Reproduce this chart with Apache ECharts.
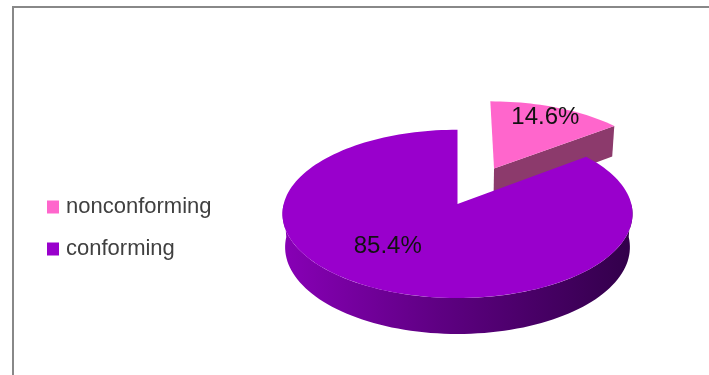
<!DOCTYPE html>
<html>
<head>
<meta charset="utf-8">
<script src="https://cdn.jsdelivr.net/npm/echarts@6/dist/echarts.min.js"></script>
<style>
  html, body { margin: 0; padding: 0; background: #fff; }
  #chart { width: 709px; height: 375px; }
</style>
</head>
<body>
<div id="chart"></div>
<script>
// 数据
const categories = ['nonconforming', 'conforming']
const values = [14.6, 85.4]
const topColors = ['#ff66cc', '#9900cc']
const sideColors = ['#8c3a6c', '#5e0082']
const explodeBy = [0.5, 0]

// 3D 投影参数 (Excel 3-D pie look)
const CX = 457.5, CY = 237, K = 1267, D = 7.4, H = 0.22
const TILT = 30 * Math.PI / 180
const sT = Math.sin(TILT), cT = Math.cos(TILT)
const cam = [0, -D * cT, D * sT]

function project(x, y, z) {
  const depth = D + y * cT - z * sT
  const v = y * sT + z * cT
  return [CX + K * x / depth, CY - K * v / depth]
}

const rad = d => d * Math.PI / 180
const total = values.reduce((a, b) => a + b, 0)

function arcPts(ox, oy, a1, a2, z) {
  const pts = []
  const n = Math.max(2, Math.ceil((a2 - a1) / 2))
  for (let k = 0; k <= n; k++) {
    const t = rad(a1 + (a2 - a1) * k / n)
    pts.push(project(ox + Math.sin(t), oy + Math.cos(t), z))
  }
  return pts
}

// only faces turned clearly toward the camera
function faceVisible(ox, oy, ang, normalAng) {
  const nx = Math.sin(rad(normalAng)), ny = Math.cos(rad(normalAng))
  const px = ox + 0.5 * Math.sin(rad(ang)), py = oy + 0.5 * Math.cos(rad(ang))
  return nx * (cam[0] - px) + ny * (cam[1] - py) > 0.5
}

function makeRenderItem(i) {
  return function (params, api) {
    const before = values.slice(0, i).reduce((a, b) => a + b, 0)
    const a1 = before / total * 360
    const a2 = a1 + api.value(0) / total * 360
    const mid = (a1 + a2) / 2
    const ox = explodeBy[i] * Math.sin(rad(mid))
    const oy = explodeBy[i] * Math.cos(rad(mid))
    const children = []

    // 径向切面
    const radial = (ang, normalAng) => {
      if (!faceVisible(ox, oy, ang, normalAng)) return
      const rx = ox + Math.sin(rad(ang)), ry = oy + Math.cos(rad(ang))
      children.push({
        type: 'polygon',
        shape: { points: [project(ox, oy, H), project(rx, ry, H), project(rx, ry, 0), project(ox, oy, 0)] },
        style: { fill: sideColors[i] }
      })
    }
    radial(a1, a1 - 90)
    radial(a2, a2 + 90)

    // 外侧面 (front only)
    const w1 = Math.max(a1, 90), w2 = Math.min(a2, 270)
    if (w2 > w1) {
      const topArc = arcPts(ox, oy, w1, w2, H)
      const botArc = arcPts(ox, oy, w1, w2, 0).reverse()
      children.push({
        type: 'polygon',
        shape: { points: topArc.concat(botArc) },
        style: {
          fill: new echarts.graphic.LinearGradient(0, 0, 1, 0, [
            { offset: 0, color: '#8800b6' },
            { offset: 0.45, color: '#5e0082' },
            { offset: 1, color: '#32004a' }
          ])
        }
      })
    }

    // 顶面
    const topPts = [project(ox, oy, H)].concat(arcPts(ox, oy, a1, a2, H))
    children.push({
      type: 'polygon',
      shape: { points: topPts },
      style: { fill: topColors[i] }
    })

    // 标签
    const lr = 0.75
    const lp = project(ox + lr * Math.sin(rad(mid)), oy + lr * Math.cos(rad(mid)), H)
    const labelShift = i === 1 ? [-7, -18] : [3, -4]
    children.push({
      type: 'text',
      x: lp[0] + labelShift[0],
      y: lp[1] + labelShift[1],
      style: {
        text: api.value(0).toFixed(1) + '%',
        fill: '#111',
        font: '24px "Liberation Sans", Arial, sans-serif',
        align: 'center',
        verticalAlign: 'middle',
        textAlign: 'center',
        textVerticalAlign: 'middle'
      }
    })

    return { type: 'group', children }
  }
}

const chart = echarts.init(document.getElementById('chart'))

const option = {
  animation: false,
  backgroundColor: '#ffffff',
  color: topColors,
  graphic: [
    {
      type: 'rect',
      shape: { x: 13, y: 7, width: 760, height: 420 },
      style: { fill: null, stroke: '#888888', lineWidth: 2 },
      silent: true
    }
  ],
  legend: {
    data: categories,
    orient: 'vertical',
    left: 42,
    top: 191,
    itemWidth: 12,
    itemHeight: 13,
    itemGap: 20,
    icon: 'rect',
    selectedMode: false,
    textStyle: {
      fontSize: 22,
      color: '#404040',
      fontFamily: '"Liberation Sans", Arial, sans-serif',
      padding: [0, 0, 0, 2]
    }
  },
  series: categories.map((name, i) => ({
    name: name,
    type: 'custom',
    coordinateSystem: 'none',
    itemStyle: { color: topColors[i] },
    data: [[values[i]]],
    renderItem: makeRenderItem(i)
  }))
}

chart.setOption(option)
</script>
</body>
</html>
